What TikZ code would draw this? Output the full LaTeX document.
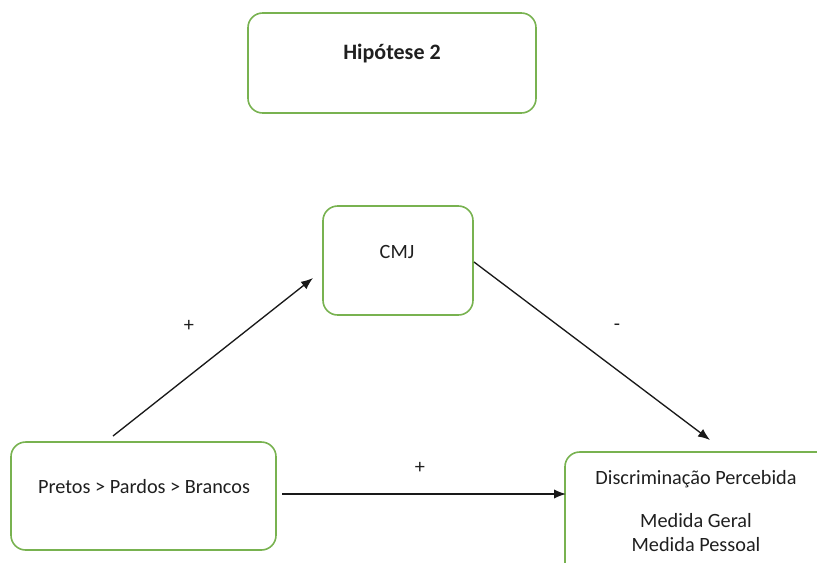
\documentclass[tikz,border=0pt]{standalone}
\usepackage{fontspec}
\setmainfont{Carlito}
\usetikzlibrary{arrows.meta}
\definecolor{boxgreen}{RGB}{120,178,80}
\begin{document}
\begin{tikzpicture}[x=0.75pt,y=-0.75pt,
  box/.style={draw=boxgreen,line width=1.2pt,rounded corners=11pt,inner sep=0pt},
  txt/.style={font=\fontsize{15.2}{18}\selectfont,text=black!88,inner sep=0pt},
  link/.style={line width=1pt,-{Latex[length=9pt,width=7pt]},black!90}]
\useasboundingbox (0,0) rectangle (817,562);
\clip (0,0) rectangle (817,562);
% boxes
\node[box,minimum width=288*0.75pt,minimum height=100*0.75pt] (hyp) at (392,63) {};
\node[box,minimum width=150*0.75pt,minimum height=109*0.75pt] (cmj) at (398,260.5) {};
\node[box,minimum width=265*0.75pt,minimum height=108*0.75pt] (race) at (143.5,496) {};
\node[box,minimum width=270*0.75pt,minimum height=130*0.75pt] (disc) at (700,517) {};
% box texts
\node[txt,font=\fontsize{16.5}{18}\selectfont\bfseries] (hypT) at (392,54) {Hipótese 2};
\node[txt] (cmjT) at (397,252) {CMJ};
\node[txt] (raceT) at (144,487) {Pretos > Pardos > Brancos};
\node[txt] (discT1) at (696,479) {Discriminação Percebida};
\node[txt,align=center] (discT2) at (696,533) {Medida Geral\\Medida Pessoal};
% connector ends
\coordinate (raceTop) at (113,436);
\coordinate (cmjIn) at (313,278);
\coordinate (cmjOut) at (474,262);
\coordinate (discIn) at (710,440);
\coordinate (raceOut) at (282,494);
\coordinate (discLeft) at (566,494);
% connectors
\draw[link] (raceTop) -- (cmjIn);
\draw[link] (cmjOut) -- (discIn);
\draw[link] (raceOut) -- (discLeft);
% signs
\node[txt] (s1) at (189,326) {+};
\node[txt] (s2) at (617,327) {-};
\node[txt] (s3) at (420,468) {+};
\end{tikzpicture}
\end{document}
